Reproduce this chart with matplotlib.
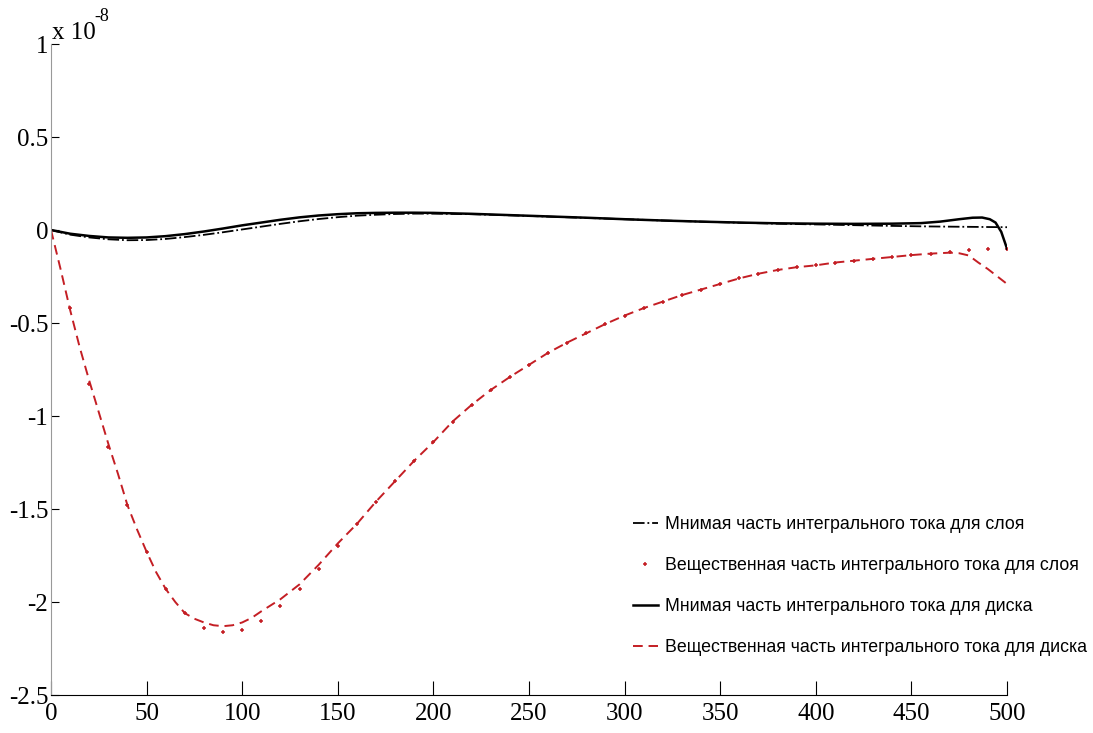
import numpy as np
import matplotlib
matplotlib.use('Agg')
import matplotlib.pyplot as plt

# values in units of 1e-8
x_disk_re = [0, 5, 10, 15, 20, 25, 30, 35, 40, 45, 50, 55, 60, 65, 70, 75, 80, 85, 90, 95,
             100, 105, 110, 120, 130, 140, 150, 160, 170, 180, 190, 200, 210, 220, 230, 240,
             250, 260, 270, 280, 290, 300, 310, 320, 330, 340, 350, 360, 370, 380, 390, 400,
             410, 420, 430, 440, 450, 460, 470, 475, 480, 485, 490, 495, 500]
y_disk_re = [0, -0.21, -0.43, -0.63, -0.81, -0.98, -1.15, -1.31, -1.48, -1.61, -1.73, -1.84,
             -1.93, -2.00, -2.06, -2.09, -2.11, -2.125, -2.13, -2.125, -2.11, -2.085, -2.05,
             -1.985, -1.905, -1.80, -1.685, -1.58, -1.46, -1.35, -1.24, -1.14, -1.03, -0.94,
             -0.86, -0.79, -0.725, -0.66, -0.605, -0.555, -0.505, -0.46, -0.42, -0.385, -0.35,
             -0.32, -0.29, -0.26, -0.235, -0.215, -0.20, -0.19, -0.175, -0.165, -0.155,
             -0.145, -0.135, -0.127, -0.122, -0.125, -0.137, -0.175, -0.21, -0.25, -0.29]

x_layer_re = list(range(0, 501, 10))
y_layer_re = [0, -0.42, -0.83, -1.165, -1.48, -1.73, -1.93, -2.06, -2.14, -2.16, -2.15,
              -2.10, -2.02, -1.93, -1.82, -1.70, -1.58, -1.46, -1.35, -1.24, -1.14, -1.03,
              -0.94, -0.86, -0.79, -0.725, -0.66, -0.605, -0.555, -0.505, -0.46, -0.42,
              -0.385, -0.35, -0.32, -0.29, -0.26, -0.235, -0.215, -0.20, -0.19, -0.175,
              -0.165, -0.155, -0.145, -0.135, -0.127, -0.12, -0.107, -0.104, -0.10]

x_disk_im = [0, 10, 20, 30, 40, 50, 60, 70, 80, 90, 100, 110, 120, 130, 140, 150, 160, 170,
             180, 190, 200, 220, 240, 260, 280, 300, 320, 340, 360, 380, 400, 420, 440, 455,
             465, 475, 482, 487, 491, 494, 497, 500]
y_disk_im = [0, -0.02, -0.032, -0.04, -0.042, -0.04, -0.033, -0.022, -0.008, 0.008, 0.025,
             0.04, 0.055, 0.068, 0.078, 0.085, 0.09, 0.092, 0.093, 0.093, 0.092, 0.087, 0.08,
             0.073, 0.066, 0.058, 0.051, 0.045, 0.04, 0.036, 0.034, 0.033, 0.034, 0.037,
             0.045, 0.058, 0.066, 0.067, 0.058, 0.04, -0.01, -0.10]

x_layer_im = [0, 10, 20, 30, 40, 50, 60, 70, 80, 90, 100, 110, 120, 130, 140, 150, 160, 170,
              180, 190, 200, 220, 240, 260, 280, 300, 320, 340, 360, 380, 400, 420, 440, 460,
              480, 500]
y_layer_im = [0, -0.025, -0.04, -0.05, -0.055, -0.054, -0.048, -0.038, -0.026, -0.012, 0.003,
              0.018, 0.033, 0.047, 0.059, 0.069, 0.077, 0.082, 0.086, 0.088, 0.088, 0.085,
              0.079, 0.072, 0.065, 0.058, 0.051, 0.045, 0.039, 0.034, 0.03, 0.026, 0.022,
              0.019, 0.017, 0.015]

labels = ['Мнимая часть интегрального тока для слоя',
          'Вещественная часть интегрального тока для слоя',
          'Мнимая часть интегрального тока для диска',
          'Вещественная часть интегрального тока для диска']

red = '#c41e24'
serif = ['Liberation Serif', 'DejaVu Serif']

fig = plt.figure(figsize=(10.93, 7.33), dpi=100)
ax = fig.add_axes([51/1093, 1-695/733, (1007-51)/1093, (695-44)/733])

l1, = ax.plot(x_layer_im, y_layer_im, color='black', linestyle='-.', linewidth=1.3)
l2, = ax.plot(x_layer_re, y_layer_re, color=red, linestyle='none', marker='+', ms=3.5, mew=1.1)
l3, = ax.plot(x_disk_im, y_disk_im, color='black', linestyle='-', linewidth=1.8)
l4, = ax.plot(x_disk_re, y_disk_re, color=red, linestyle=(0, (5, 3)), linewidth=1.4)

ax.set_xlim(0, 500)
ax.set_ylim(-2.5, 1)
ax.set_xticks(np.arange(0, 501, 50))
ax.set_yticks([-2.5, -2, -1.5, -1, -0.5, 0, 0.5, 1])
ax.set_yticklabels(['-2.5', '-2', '-1.5', '-1', '-0.5', '0', '0.5', '1'])
ax.tick_params(axis='both', direction='in', labelsize=18, colors='black')
ax.tick_params(axis='x', length=10, pad=6)
ax.tick_params(axis='y', length=6, pad=2)
for lab in ax.get_xticklabels() + ax.get_yticklabels():
    lab.set_family(serif)

ax.spines['top'].set_visible(False)
ax.spines['right'].set_visible(False)
ax.spines['left'].set_color('#999999')
ax.spines['bottom'].set_color('black')

# exponent label
fig.text(52/1093, 1-39/733, 'x 10', fontsize=18, family=serif, ha='left', va='baseline')
fig.text(94/1093, 1-21/733, '-8', fontsize=13, family=serif, ha='left', va='baseline')

fig.legend([l1, l2, l3, l4], labels, loc='upper left',
           bbox_to_anchor=(617/1093, 1-500/733), frameon=False,
           prop={'family': ['Liberation Sans', 'DejaVu Sans'], 'size': 12.8},
           handlelength=1.4, handletextpad=0.4, labelspacing=1.35)

fig.savefig('out.png', dpi=100)
